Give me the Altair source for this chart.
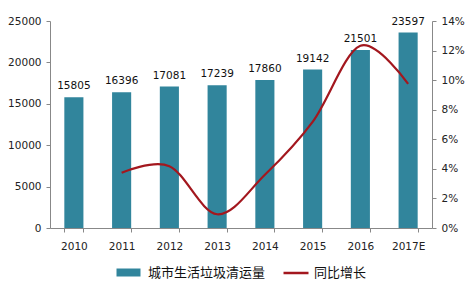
import altair as alt
import pandas as pd

years = ["2010", "2011", "2012", "2013", "2014", "2015", "2016", "2017E"]
volume = [15805, 16396, 17081, 17239, 17860, 19142, 21501, 23597]
growth = [None, 0.0374, 0.0418, 0.0093, 0.0360, 0.0718, 0.1232, 0.0975]
bar_name = "城市生活垃圾清运量"
line_name = "同比增长"

df = pd.DataFrame({"year": years, "volume": volume, "growth": growth,
                   "bar_s": bar_name, "line_s": line_name})

TEAL = "#31859C"
RED = "#A3171E"
FONT = "DejaVu Sans"
CJK = "Noto Sans CJK SC"

x = alt.X("year:N", sort=years, title=None,
          scale=alt.Scale(paddingInner=0.6, paddingOuter=0.3),
          axis=alt.Axis(labelAngle=0, labelFont=FONT, labelFontSize=10.5,
                        labelColor="#222222", domainColor="#888888",
                        tickColor="#888888", tickSize=4, tickBand="extent",
                        labelPadding=9, ticks=True))

base = alt.Chart(df)

bars = base.mark_bar(color=TEAL).encode(
    x=x,
    y=alt.Y("volume:Q", title=None,
            scale=alt.Scale(domain=[0, 25000], nice=False),
            axis=alt.Axis(values=[0, 5000, 10000, 15000, 20000, 25000],
                          format="d", grid=False, labelFont=FONT,
                          labelFontSize=10.5, labelColor="#222222",
                          domainColor="#888888", tickColor="#888888",
                          tickSize=4, labelPadding=5)),
    fill=alt.Fill("bar_s:N", title=None,
                  scale=alt.Scale(domain=[bar_name], range=[TEAL]),
                  legend=alt.Legend(orient="none", legendX=64, legendY=245,
                                    symbolType="M-1,-1H5V1H-1Z", symbolSize=64,
                                    symbolStrokeWidth=0, labelOffset=21,
                                    labelFont=CJK, labelFontSize=13,
                                    labelColor="#111111", padding=0)),
)

labels = base.mark_text(baseline="bottom", dy=-6, font=FONT, fontSize=10.5,
                        color="#111111").encode(
    x=alt.X("year:N", sort=years),
    y=alt.Y("volume:Q", scale=alt.Scale(domain=[0, 25000], nice=False)),
    text=alt.Text("volume:Q", format="d"),
)

line = base.transform_filter("datum.growth != null").mark_line(
    interpolate="cardinal", strokeWidth=2.2, color=RED).encode(
    x=alt.X("year:N", sort=years),
    y=alt.Y("growth:Q", title=None,
            scale=alt.Scale(domain=[0, 0.14], nice=False),
            axis=alt.Axis(orient="right", values=[0, 0.02, 0.04, 0.06, 0.08, 0.10, 0.12, 0.14],
                          format=".0%", grid=False, labelFont=FONT,
                          labelFontSize=10.5, labelColor="#222222",
                          domainColor="#888888", tickColor="#888888",
                          tickSize=4, labelPadding=5)),
    stroke=alt.Stroke("line_s:N", title=None,
                      scale=alt.Scale(domain=[line_name], range=[RED]),
                      legend=alt.Legend(orient="none", legendX=232, legendY=238,
                                        symbolType="stroke", symbolSize=625,
                                        symbolStrokeWidth=2.5, labelOffset=4,
                                        labelFont=CJK, labelFontSize=13,
                                        labelColor="#111111", padding=0)),
)

left = alt.layer(bars, labels)
chart = alt.layer(left, line).resolve_scale(
    y="independent", fill="independent", stroke="independent"
).properties(
    width=382, height=207,
    padding={"left": 50, "top": 21, "right": 34, "bottom": 61},
    autosize=alt.AutoSizeParams(type="none"),
    background="white",
).configure_view(stroke=None)

chart.save("out.html", embed_options={"renderer": "svg", "actions": False})
